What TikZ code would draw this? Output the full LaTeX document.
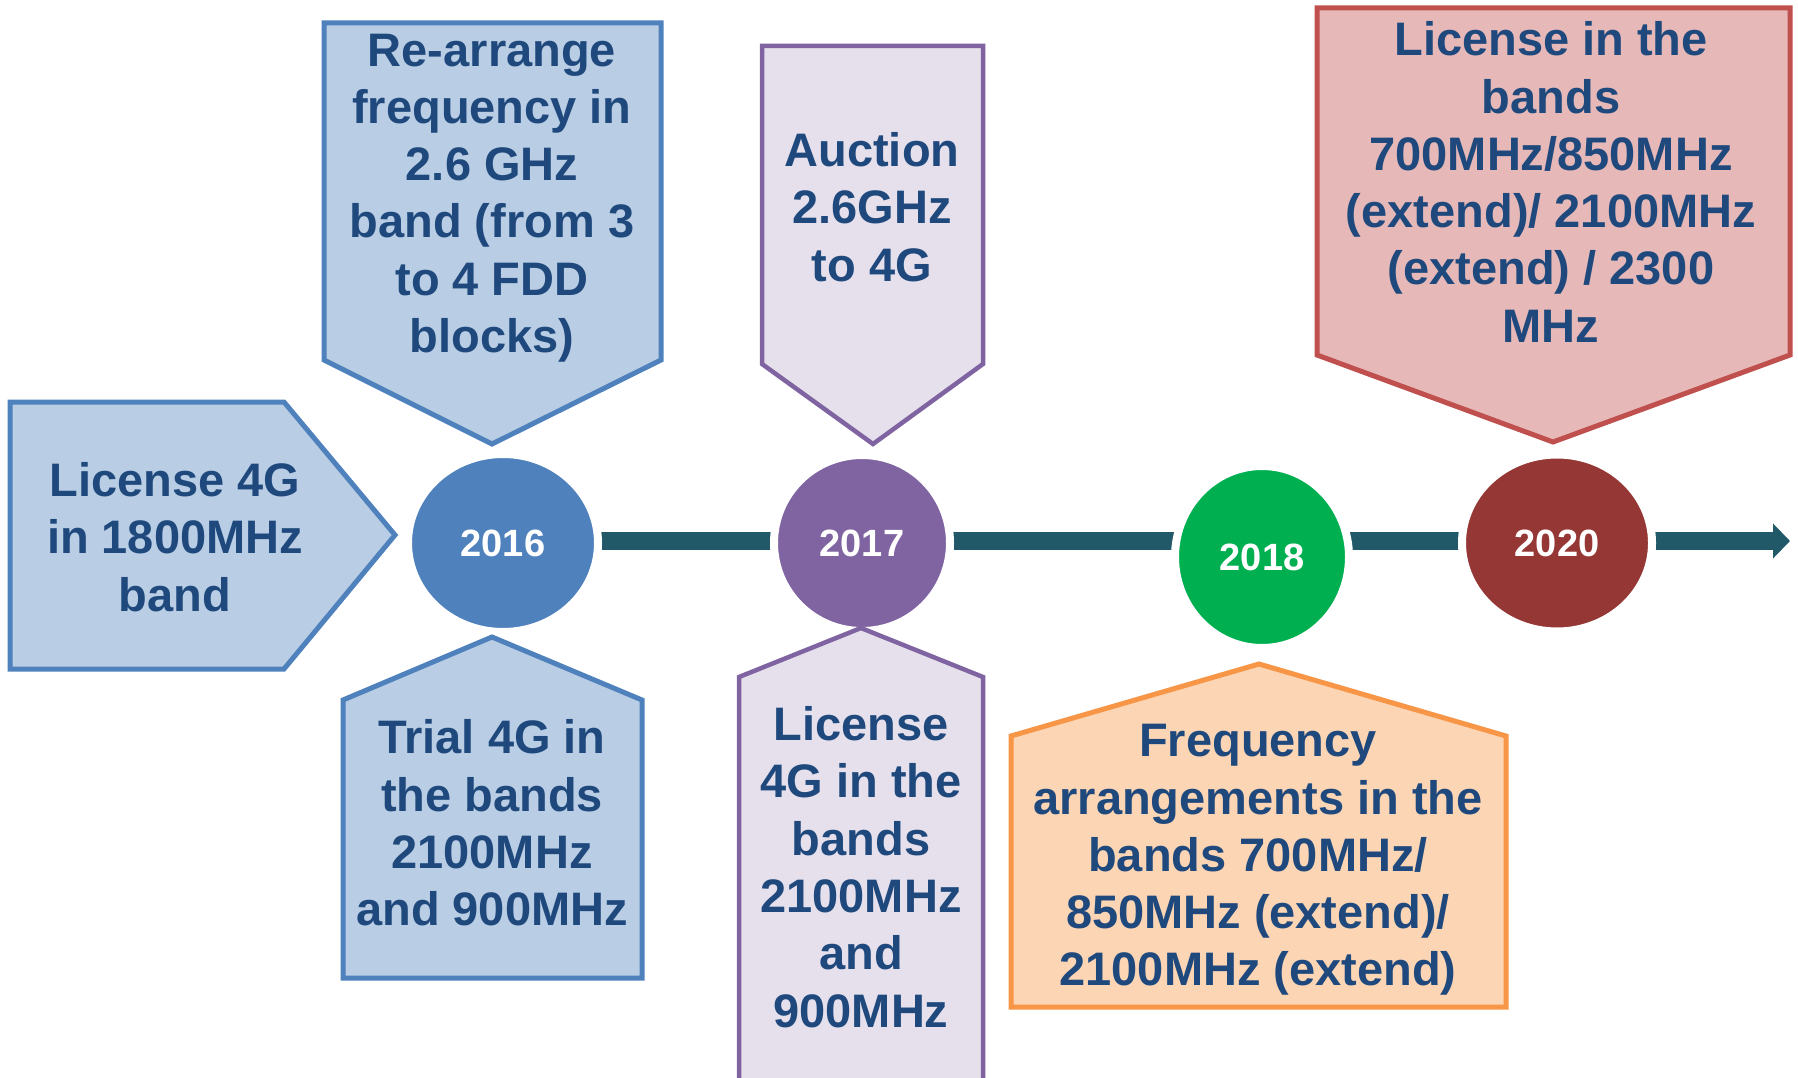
\documentclass[tikz,border=0pt]{standalone}
\usepackage{fontspec}
\setmainfont{Liberation Sans}
\usepackage{xcolor}
\usepackage{tikz}
\usetikzlibrary{positioning, shapes, shapes.geometric, arrows.meta, backgrounds}

\definecolor{lineblue}{HTML}{4F81BD}
\definecolor{fillblue}{HTML}{B9CDE5}
\definecolor{linepurple}{HTML}{8064A2}
\definecolor{fillpurple}{HTML}{E6E0EC}
\definecolor{linered}{HTML}{C0504D}
\definecolor{fillred}{HTML}{E6B9B8}
\definecolor{lineorange}{HTML}{F79646}
\definecolor{fillorange}{HTML}{FCD5B5}
\definecolor{textblue}{HTML}{1F497D}
\definecolor{yeargreen}{HTML}{00B050}
\definecolor{yearred}{HTML}{953735}
\definecolor{barteal}{HTML}{215968}

\begin{document}
\begin{tikzpicture}[
    x=1pt, y=-1pt,
    bluebox/.style={draw=lineblue, fill=fillblue, line width=5pt},
    purplebox/.style={draw=linepurple, fill=fillpurple, line width=4.5pt},
    redbox/.style={draw=linered, fill=fillred, line width=5pt},
    orangebox/.style={draw=lineorange, fill=fillorange, line width=5pt},
    label/.style={text=textblue, align=center, font=\bfseries\fontsize{47}{57.3}\selectfont},
    year/.style={ellipse, draw=white, line width=8pt, inner sep=0pt, text=white, font=\bfseries\fontsize{38}{45}\selectfont},
    timeline/.style={-{Triangle[length=17pt, width=34pt]}, line width=18pt, barteal}
]
\useasboundingbox (0,0) rectangle (1798,1078);

% Year circles
\node[year, fill=lineblue, minimum width=190pt, minimum height=178pt] (y2016) at (503,543) {2016};
\node[year, fill=linepurple, minimum width=176pt, minimum height=176pt] (y2017) at (862,543) {2017};
\node[year, fill=yeargreen, minimum width=174pt, minimum height=182pt] (y2018) at (1262,557) {2018};
\node[year, fill=yearred, minimum width=190pt, minimum height=177pt] (y2020) at (1557,543) {2020};

% Timeline
\coordinate (tip) at (1790,541);
\begin{scope}[on background layer]
\draw[timeline] (y2016.center |- tip) -- (tip);
\end{scope}

% Callout boxes
\draw[bluebox] (10,402) -- (284,402) -- (395,535) -- (284,669) -- (10,669) -- cycle;
\draw[bluebox] (324,23) -- (661,23) -- (661,360) -- (492,444) -- (324,360) -- cycle;
\draw[bluebox] (492,637) -- (642,700) -- (642,978) -- (343,978) -- (343,700) -- cycle;
\draw[purplebox] (762,46) -- (983,46) -- (983,364) -- (873,444) -- (762,364) -- cycle;
\draw[purplebox] (861,628) -- (983,677) -- (983,1100) -- (739,1100) -- (739,677) -- cycle;
\draw[orangebox] (1259,664) -- (1506,736) -- (1506,1007) -- (1011,1007) -- (1011,736) -- cycle;
\draw[redbox] (1317,8) -- (1790,8) -- (1790,355) -- (1553,442) -- (1317,355) -- cycle;

% Box texts
\node[label] (lic1800) at (175,537) {License 4G\\in 1800MHz\\band};
\node[label] (rearrange) at (492,198) {Re-arrange\\frequency in\\2.6 GHz\\band (from 3\\to 4 FDD\\blocks)};
\node[label] (trial) at (492,823) {Trial 4G in\\the bands\\2100MHz\\and 900MHz};
\node[label] (auction) at (872,207) {Auction\\2.6GHz\\to 4G};
\node[label] (lic2100) at (861,867) {License\\4G in the\\bands\\2100MHz\\and\\900MHz};
\node[label] (freq) at (1258,860) {Frequency\\arrangements in the\\bands 700MHz/\\850MHz (extend)/\\2100MHz (extend)};
\node[label] (lic700) at (1551,182) {License in the\\bands\\700MHz/850MHz\\(extend)/ 2100MHz\\(extend) / 2300\\MHz};

\end{tikzpicture}
\end{document}
